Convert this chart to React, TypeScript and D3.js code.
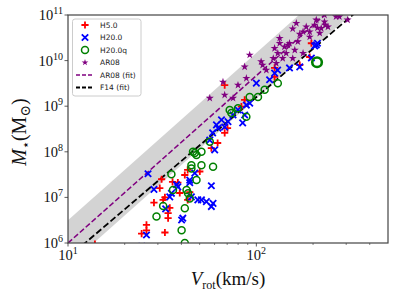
import React, { useEffect, useRef } from "react";
import * as d3 from "d3";

// [Vrot (km/s), M* (Msun)]
const h5 = [
  [31.4, 2.5e7], [30.7, 1.6e7], [32.0, 8.8e6], [28.6, 7.7e6], [34.7, 5.9e6],
  [34.0, 4.5e6], [34.0, 3.5e6], [26.1, 2.5e6], [26.1, 1.9e6], [24.6, 1.6e6],
  [32.7, 1.7e6], [38.3, 2.1e7], [41.7, 3.1e7], [43.2, 8.8e6], [44.3, 1.3e7],
  [39.2, 1.25e7], [35.9, 2.2e7], [43.2, 4.0e7], [50.1, 3.7e7], [32.7, 1.0e7],
  [62.3, 1.56e8], [57.7, 1.2e8], [67.9, 2.6e8], [70.3, 3.3e8], [83.3, 9.8e8],
  [86.7, 1.37e9], [67.9, 2.9e9], [125, 6.9e9], [125, 4.4e9], [170, 8.0e9],
  [192, 1.2e10], [196, 2.4e10], [13.9, 9.5e5],
];

const h20 = [
  [26.6, 3.3e7], [28.6, 1.5e7], [26.1, 1.5e6], [34.7, 1.03e7], [33.0, 5.6e6],
  [40.1, 3.2e6], [40.7, 3.5e6], [38.3, 1.7e7], [44.3, 2.1e7], [45.2, 1.03e7],
  [48.9, 8.8e6], [24.6, 8.5e5], [57.7, 1.8e7], [51.1, 8.8e6], [54.3, 8.1e6],
  [57.7, 6.3e6], [58.9, 7.4e6], [37.7, 1.9e7], [47.1, 3.4e7], [44.3, 2.4e7],
  [35.4, 1.23e7], [60.1, 1.1e8], [62.6, 3.3e8], [67.9, 3.5e8], [70.7, 4.6e8],
  [75.2, 6.4e8], [79.9, 8.3e8], [86.7, 6.4e8], [88.5, 1.06e9], [84.6, 4.3e8],
  [56.6, 1.8e8], [58.6, 2.6e8], [61.4, 3.9e8], [65.3, 5.0e8], [92.2, 1.17e9],
  [100, 3.2e9], [117.6, 3.8e9], [125, 5.3e9], [129.7, 6.2e9], [150, 6.9e9],
  [170, 7.3e9], [196, 1.14e10], [208, 2.2e10], [211, 2.4e10], [204, 2.1e10],
];

const h20q = [
  [35.4, 3.2e7], [36.1, 1.45e7], [32.0, 6.5e6], [29.5, 3.8e6], [40.1, 1.9e6],
  [41.7, 5.8e6], [43.4, 1.23e7], [41.7, 1.0e6], [45.2, 4.3e7], [47.1, 9.4e7],
  [51.1, 5.1e7], [58.9, 4.7e7], [42.6, 1.45e7], [44.3, 9.5e6], [48.1, 2.4e7],
  [46.1, 1.0e8], [51.1, 1.0e8], [48.1, 8.5e7], [45.2, 5.1e7], [56.6, 1.66e8],
  [72.2, 8.3e8], [79.9, 9.0e8], [73.7, 7.1e8], [88.5, 5.9e8], [92.2, 1.6e9],
  [102, 1.6e9], [110.7, 2.3e9], [130, 3.2e9],
];
const h20qLarge = [[210, 9.2e9]];

const ar08 = [
  [265, 9.2e10], [230, 1.0e11], [163, 6.6e10], [184, 5.5e10], [177, 4.3e10],
  [192, 4.3e10], [204, 6.0e10], [230, 7.1e10], [240, 5.5e10], [208, 7.8e10],
  [217, 4.0e10], [166, 2.6e10], [192, 3.3e10], [133, 3.1e10], [133, 2.4e10],
  [150, 2.4e10], [141, 2.0e10], [125, 1.86e10], [160, 1.7e10], [130, 1.45e10],
  [144, 1.45e10], [138, 1.12e10], [177, 1.45e10], [92.2, 1.33e10], [106, 9.5e9],
  [127.6, 8.7e9], [113, 6.2e9], [88.5, 4.1e9], [66.5, 3.4e9], [79.9, 2.9e9],
  [56.6, 1.5e9], [75.2, 1.5e9], [67.9, 1.76e9], [86.7, 7.3e9], [276, 9.2e10],
  [305, 7.8e10], [156, 1.12e10], [156, 5.0e10], [211, 5.2e10], [221, 5.1e10],
  [232, 6.0e10], [170, 3.8e10], [147, 2.2e10], [108, 8.0e9], [123, 1.12e10],
];

// log10 M* = logM10 + slope * (log10 V - 1)
const ar08Fit = { slope: 3.67, logM10: 6.0, scatter: 0.5 };
const f14Fit = { slope: 3.52, logM10: 5.68 };

const xTickExps = [1, 2];
const yTickExps = [6, 7, 8, 9, 10, 11];
const legendLabels = ["H5.0", "H20.0", "H20.0q", "AR08", "AR08 (fit)", "F14 (fit)"];

const plusPath = s => `M${-s},0H${s}M0,${-s}V${s}`;
const crossPath = s => `M${-s},${-s}L${s},${s}M${-s},${s}L${s},${-s}`;
const serif = "'Liberation Serif', 'DejaVu Serif', serif";

const App = () => {
  const ref = useRef(null);

  useEffect(() => {
    const svg = d3.select(ref.current);
    svg.selectAll("*").remove();

    const L = 68, R = 388, T = 15, B = 243;
    const x = d3.scaleLog().domain([10, 500]).range([L, R]);
    const y = d3.scaleLog().domain([1e6, 1e11]).range([B, T]);

    svg.append("defs").append("clipPath").attr("id", "pc")
      .append("rect").attr("x", L).attr("y", T).attr("width", R - L).attr("height", B - T);

    const plot = svg.append("g").attr("clip-path", "url(#pc)");
    const fitM = (f, v, off = 0) => Math.pow(10, f.logM10 + off + f.slope * (Math.log10(v) - 1));
    const vEnds = x.domain();

    // scatter band
    plot.append("path")
      .datum(vEnds)
      .attr("fill", "#d3d3d3")
      .attr("d", d3.area()
        .x(v => x(v))
        .y0(v => y(fitM(ar08Fit, v, -ar08Fit.scatter)))
        .y1(v => y(fitM(ar08Fit, v, ar08Fit.scatter))));

    const line = f => d3.line().x(v => x(v)).y(v => y(fitM(f, v)));
    plot.append("path").datum(vEnds).attr("d", line(ar08Fit))
      .attr("fill", "none").attr("stroke", "#800080").attr("stroke-width", 1.5)
      .attr("stroke-dasharray", "5.5,2.4");
    plot.append("path").datum(vEnds).attr("d", line(f14Fit))
      .attr("fill", "none").attr("stroke", "black").attr("stroke-width", 1.8)
      .attr("stroke-dasharray", "6.5,2.8");

    const tr = d => `translate(${x(d[0])},${y(d[1])})`;

    plot.selectAll("path.h5").data(h5).enter().append("path")
      .attr("class", "h5").attr("transform", tr).attr("d", plusPath(3.6))
      .attr("stroke", "red").attr("stroke-width", 1.8).attr("fill", "none");

    plot.selectAll("path.h20").data(h20).enter().append("path")
      .attr("class", "h20").attr("transform", tr).attr("d", crossPath(3.2))
      .attr("stroke", "blue").attr("stroke-width", 1.8).attr("fill", "none");

    plot.selectAll("circle.h20q").data(h20q).enter().append("circle")
      .attr("class", "h20q").attr("cx", d => x(d[0])).attr("cy", d => y(d[1])).attr("r", 3.5)
      .attr("stroke", "green").attr("stroke-width", 1.5).attr("fill", "none");
    plot.selectAll("circle.h20qL").data(h20qLarge).enter().append("circle")
      .attr("class", "h20qL").attr("cx", d => x(d[0])).attr("cy", d => y(d[1])).attr("r", 4.8)
      .attr("stroke", "green").attr("stroke-width", 2.6).attr("fill", "none");

    const star = d3.symbol().type(d3.symbolStar).size(20);
    plot.selectAll("path.ar08").data(ar08).enter().append("path")
      .attr("class", "ar08").attr("transform", tr).attr("d", star())
      .attr("fill", "#800080");

    // frame
    svg.append("rect").attr("x", L).attr("y", T).attr("width", R - L).attr("height", B - T)
      .attr("fill", "none").attr("stroke", "#444").attr("stroke-width", 1.2);

    // x ticks
    const minor = d3.range(2, 10).map(k => k * 10).concat([200, 300, 400]);
    svg.selectAll("line.xmin").data(minor).enter().append("line")
      .attr("x1", d => x(d)).attr("x2", d => x(d)).attr("y1", B).attr("y2", B + 2)
      .attr("stroke", "#333").attr("stroke-width", 0.6);
    xTickExps.forEach(e => {
      const px = x(Math.pow(10, e));
      svg.append("line").attr("x1", px).attr("x2", px).attr("y1", B).attr("y2", B + 3.5)
        .attr("stroke", "#333").attr("stroke-width", 0.8);
      const t = svg.append("text").attr("x", px).attr("y", 260).attr("text-anchor", "middle")
        .attr("font-family", serif).attr("font-size", 14.5).attr("fill", "#111");
      t.append("tspan").text("10");
      t.append("tspan").attr("dy", -6).attr("font-size", 10).text(e);
    });

    // y ticks
    yTickExps.forEach(e => {
      const py = y(Math.pow(10, e));
      svg.append("line").attr("x1", L - 3.5).attr("x2", L).attr("y1", py).attr("y2", py)
        .attr("stroke", "#333").attr("stroke-width", 0.8);
      const t = svg.append("text").attr("x", 63).attr("y", py + 5).attr("text-anchor", "end")
        .attr("font-family", serif).attr("font-size", 14.5).attr("fill", "#111");
      t.append("tspan").text("10");
      t.append("tspan").attr("dy", -6).attr("font-size", 10).text(e);
    });

    // axis labels
    const xl = svg.append("text").attr("x", 228).attr("y", 285).attr("text-anchor", "middle")
      .attr("font-family", serif).attr("font-size", 19).attr("fill", "#111");
    xl.append("tspan").attr("font-style", "italic").text("V");
    xl.append("tspan").attr("font-size", 12).attr("dy", 4).text("rot");
    xl.append("tspan").attr("dy", -4).text("(km/s)");

    const yl = svg.append("text").attr("transform", "translate(26,132) rotate(-90)")
      .attr("text-anchor", "middle").attr("font-family", serif).attr("font-size", 20).attr("fill", "#111");
    yl.append("tspan").attr("font-style", "italic").text("M");
    yl.append("tspan").attr("font-size", 13).attr("dy", 4).text("\u22c6");
    yl.append("tspan").attr("dy", -4).text("(M");
    yl.append("tspan").attr("font-size", 14).attr("dy", 4).text("\u2299");
    yl.append("tspan").attr("dy", -4).text(")");

    // legend
    const lg = svg.append("g");
    lg.append("rect").attr("x", 72.5).attr("y", 19).attr("width", 68.5).attr("height", 77)
      .attr("rx", 2.5).attr("fill", "white").attr("fill-opacity", 0.85)
      .attr("stroke", "#ccc").attr("stroke-width", 1);
    legendLabels.forEach((label, i) => {
      const cy = 25 + i * 12.5;
      const g = lg.append("g").attr("transform", `translate(85,${cy})`);
      if (i === 0) g.append("path").attr("d", plusPath(3.6)).attr("stroke", "red").attr("stroke-width", 1.8);
      if (i === 1) g.append("path").attr("d", crossPath(3.2)).attr("stroke", "blue").attr("stroke-width", 1.8);
      if (i === 2) g.append("circle").attr("r", 3.5).attr("fill", "none").attr("stroke", "green").attr("stroke-width", 1.5);
      if (i === 3) g.append("path").attr("d", d3.symbol().type(d3.symbolStar).size(14)()).attr("fill", "#800080");
      if (i === 4) g.append("line").attr("x1", -9).attr("x2", 7).attr("stroke", "#800080")
        .attr("stroke-width", 1.5).attr("stroke-dasharray", "4,2");
      if (i === 5) g.append("line").attr("x1", -9).attr("x2", 7).attr("stroke", "black")
        .attr("stroke-width", 1.8).attr("stroke-dasharray", "4,2");
      lg.append("text").attr("x", 100).attr("y", cy + 2.6)
        .attr("font-family", "'DejaVu Sans', sans-serif").attr("font-size", 7.5).attr("fill", "#222")
        .text(label);
    });
  }, []);

  return (
    <svg ref={ref} width={399} height={299}
      style={{ position: "absolute", left: 0, top: 0, background: "white" }} />
  );
};

export default App;
